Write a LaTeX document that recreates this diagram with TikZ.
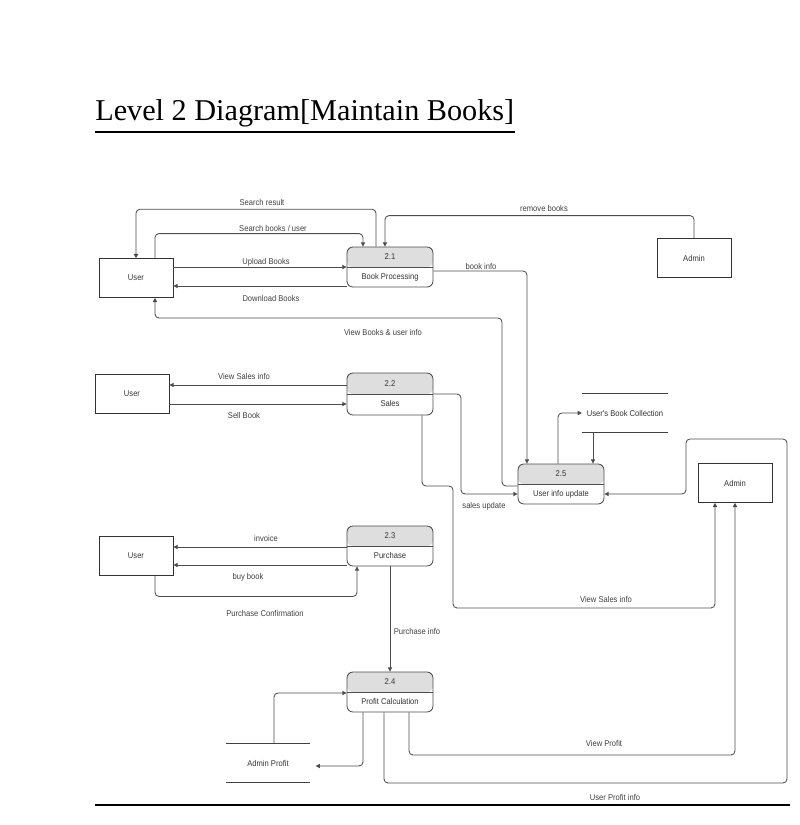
\documentclass[tikz,border=0pt]{standalone}
\usepackage{fontspec}
\setmainfont{Liberation Serif}
\newfontfamily\dfdfont[FakeStretch=0.9]{Liberation Sans}
\usetikzlibrary{arrows.meta,calc}

\begin{document}
\begin{tikzpicture}[
    x=0.025cm, y=-0.025cm,
    entity/.style={draw=black!80, line width=0.6pt, minimum width=1.85cm, minimum height=0.97cm, font=\dfdfont\fontsize{6}{7}\selectfont, text=black!80},
    proc/.style={draw=black!70, line width=0.6pt, rounded corners=0.15cm, minimum width=2.15cm, minimum height=1cm, align=center, font=\dfdfont\fontsize{6}{14.2}\selectfont, text=black!80,
      path picture={\fill[black!13] (path picture bounding box.north west) rectangle (path picture bounding box.east);
        \draw[black!70, line width=0.6pt] (path picture bounding box.west) -- (path picture bounding box.east);}},
    store/.style={minimum width=2.07cm, minimum height=0.96cm, font=\dfdfont\fontsize{6}{7}\selectfont, text=black!80},
    storeline/.style={draw=black!75, line width=1.3pt},
    flow/.style={-{Triangle[length=3pt,width=3pt]}, draw=black!70, line width=0.6pt, rounded corners=0.1cm},
    lbl/.style={font=\dfdfont\fontsize{6}{7}\selectfont, text=black!75},
  ]
  \useasboundingbox (0,0) rectangle (800,825);

  % Title
  \node[anchor=base west, inner sep=0pt, font=\fontsize{21.5}{25}\selectfont] (title) at (95,120) {Level 2 Diagram[Maintain Books]};
  \draw[line width=0.8pt] ($(title.base west)+(0,12)$) -- ($(title.base east)+(0,12)$);

  % Entities
  \node[entity] (u1) at (136,278) {User};
  \node[entity] (a1) at (694,258) {Admin};
  \node[entity] (u2) at (132,394) {User};
  \node[entity] (a2) at (735,483) {Admin};
  \node[entity] (u3) at (136,556) {User};

  % Processes
  \node[proc] (p21) at (390,267) {2.1\\Book Processing};
  \node[proc, minimum height=1.05cm] (p22) at (390,394) {2.2\\Sales};
  \node[proc] (p23) at (390,546) {2.3\\Purchase};
  \node[proc] (p24) at (390,692) {2.4\\Profit Calculation};
  \node[proc] (p25) at (561,484) {2.5\\User info update};

  % Data stores
  \node[store] (ubc) at (625,413) {User's Book Collection};
  \node[store] (ap) at (268,763) {Admin Profit};
  \draw[storeline] (ubc.north west) -- (ubc.north east);
  \draw[storeline] (ubc.south west) -- (ubc.south east);
  \draw[storeline] (ap.north west) -- (ap.north east);
  \draw[storeline] (ap.south west) -- (ap.south east);

  % 2.1 flows
  \draw[flow] ($(p21.north)+(-14,0)$) |- ($(u1.north)+(0,-49)$) -- (u1.north);
  \node[lbl] at (262,202) {Search result};
  \draw[flow] ($(u1.north)+(19,0)$) |- ($(p21.north)+(-27,-13)$) -- ($(p21.north)+(-27,0)$);
  \node[lbl] at (273,228) {Search books / user};
  \draw[flow] ($(u1.east)+(0,-11)$) -- (p21.west);
  \node[lbl] at (266,262) {Upload Books};
  \draw[flow] ($(p21.west)+(0,19)$) -- ($(u1.east)+(0,8)$);
  \node[lbl] at (271,298) {Download Books};
  \draw[flow] ($(p25.west)+(0,2)$) -| (502,318) -| ($(u1.south)+(19,0)$);
  \node[lbl] at (383,332) {View Books \& user info};
  \draw[flow] (a1.north) |- ($(p21.north)+(-5,-31)$) -- ($(p21.north)+(-5,0)$);
  \node[lbl] at (544,208) {remove books};
  \draw[flow] ($(p21.east)+(0,4)$) -| ($(p25.north)+(-34,0)$);
  \node[lbl] at (481,266) {book info};

  % 2.2 flows
  \draw[flow] ($(p22.west)+(0,-9)$) -- ($(u2.east)+(0,-9)$);
  \node[lbl] at (244,376) {View Sales info};
  \draw[flow] ($(u2.east)+(0,10)$) -- ($(p22.west)+(0,10)$);
  \node[lbl] at (244,415) {Sell Book};
  \draw[flow] (p22.east) -| (461,494) -- ($(p25.west)+(0,10)$);
  \node[lbl] at (484,506) {sales update};
  \draw[flow] ($(p22.south)+(32,0)$) |- (453,486) |- (715,608) -- ($(a2.south)+(-20,0)$);
  \node[lbl] at (606,599) {View Sales info};

  % 2.5 and store
  \draw[flow] ($(p25.north)+(-3,0)$) |- (ubc.west);
  \draw[flow] ($(ubc.south)+(-32,0)$) -- ($(p25.north)+(32,0)$);

  % 2.3 flows
  \draw[flow] ($(p23.west)+(0,1)$) -- ($(u3.east)+(0,-9)$);
  \node[lbl] at (266,538) {invoice};
  \draw[flow] ($(p23.west)+(0,19)$) -- ($(u3.east)+(0,9)$);
  \node[lbl] at (248,577) {buy book};
  \draw[flow] ($(u3.south)+(19,0)$) |- ($(p23.south)+(-33,30)$) -- ($(p23.south)+(-33,0)$);
  \node[lbl] at (265,613) {Purchase Confirmation};
  \draw[flow] (p23.south) -- (p24.north);
  \node[lbl] at (417,631) {Purchase info};

  % 2.4 flows
  \draw[flow] ($(ap.north)+(6,0)$) |- ($(p24.west)+(0,1)$);
  \draw[flow] ($(p24.south)+(-27,0)$) |- ($(ap.east)+(6,3)$);
  \draw[flow] ($(p24.south)+(19,0)$) |- (735,755) -- (a2.south);
  \node[lbl] at (604,743) {View Profit};
  \draw[flow] ($(p24.south)+(-6,0)$) |- (787,783) |- (686,439) |- ($(p25.east)+(0,10)$);
  \node[lbl] at (615,797) {User Profit info};

  % Bottom rule
  \draw[line width=1.8pt] (95,805) -- (790,805);
\end{tikzpicture}
\end{document}
